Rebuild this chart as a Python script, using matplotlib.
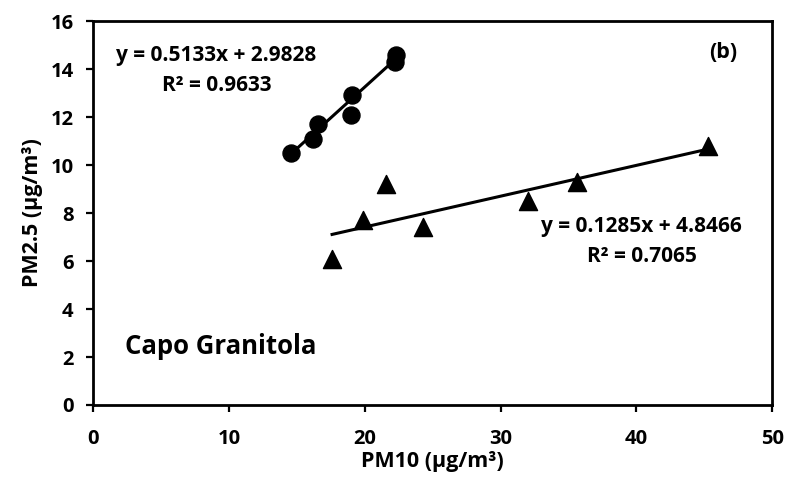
import numpy as np
import matplotlib
matplotlib.use("Agg")
import matplotlib.pyplot as plt

plt.rcParams['font.family'] = ['Open Sans', 'DejaVu Sans']
plt.rcParams['font.weight'] = 'bold'

# PM10 / PM2.5 pairs for the two groups (µg/m³)
pm10_circles = [14.6, 16.2, 16.6, 19.1, 19.0, 22.2, 22.3]
pm25_circles = [10.5, 11.1, 11.7, 12.9, 12.1, 14.3, 14.6]

pm10_triangles = [17.6, 19.9, 21.6, 24.3, 32.0, 35.6, 45.3]
pm25_triangles = [6.1, 7.7, 9.2, 7.4, 8.5, 9.3, 10.8]

# Linear fits (slope, intercept, R²)
fit_circles = (0.5133, 2.9828, 0.9633)
fit_triangles = (0.1285, 4.8466, 0.7065)

x_ticks = [0, 10, 20, 30, 40, 50]
y_ticks = [0, 2, 4, 6, 8, 10, 12, 14, 16]

fig = plt.figure(figsize=(7.88, 4.79), dpi=100)
ax = fig.add_axes([0.118, 0.1545, 0.862, 0.8015])

ax.scatter(pm10_circles, pm25_circles, marker='o', s=150, color='black', zorder=3)
ax.scatter(pm10_triangles, pm25_triangles, marker='^', s=170, color='black', zorder=3)

for xs, (m, b, _) in ((pm10_circles, fit_circles), (pm10_triangles, fit_triangles)):
    xx = np.array([min(xs), max(xs)])
    ax.plot(xx, m * xx + b, color='black', lw=2.2, zorder=2)

ax.set_xlim(0, 50)
ax.set_ylim(0, 16)
ax.set_xticks(x_ticks)
ax.set_yticks(y_ticks)
ax.tick_params(axis='both', labelsize=14.5, width=1.6, length=5, direction='out')
ax.tick_params(axis='x', pad=12)
ax.tick_params(axis='y', pad=9)
for s in ax.spines.values():
    s.set_linewidth(2)

ax.set_xlabel('PM10 (µg/m³)', fontsize=15.5, fontweight='bold', labelpad=2)
ax.set_ylabel('PM2.5 (µg/m³)', fontsize=15.5, fontweight='bold', labelpad=5)

m, b, r2 = fit_circles
ax.text(9.06, 14.58, f'y = {m}x + {b}', fontsize=15, fontweight='bold', ha='center', va='center')
ax.text(9.1, 13.33, f'R² = {r2}', fontsize=15, fontweight='bold', ha='center', va='center')

m, b, r2 = fit_triangles
ax.text(40.4, 7.42, f'y = {m}x + {b}', fontsize=15, fontweight='bold', ha='center', va='center')
ax.text(40.4, 6.17, f'R² = {r2}', fontsize=15, fontweight='bold', ha='center', va='center')

ax.text(46.4, 14.7, '(b)', fontsize=15.5, fontweight='bold', ha='center', va='center')
ax.text(2.36, 2.42, 'Capo Granitola', fontsize=18.5, fontweight='bold', ha='left', va='center')

fig.savefig('out.png', dpi=100)
